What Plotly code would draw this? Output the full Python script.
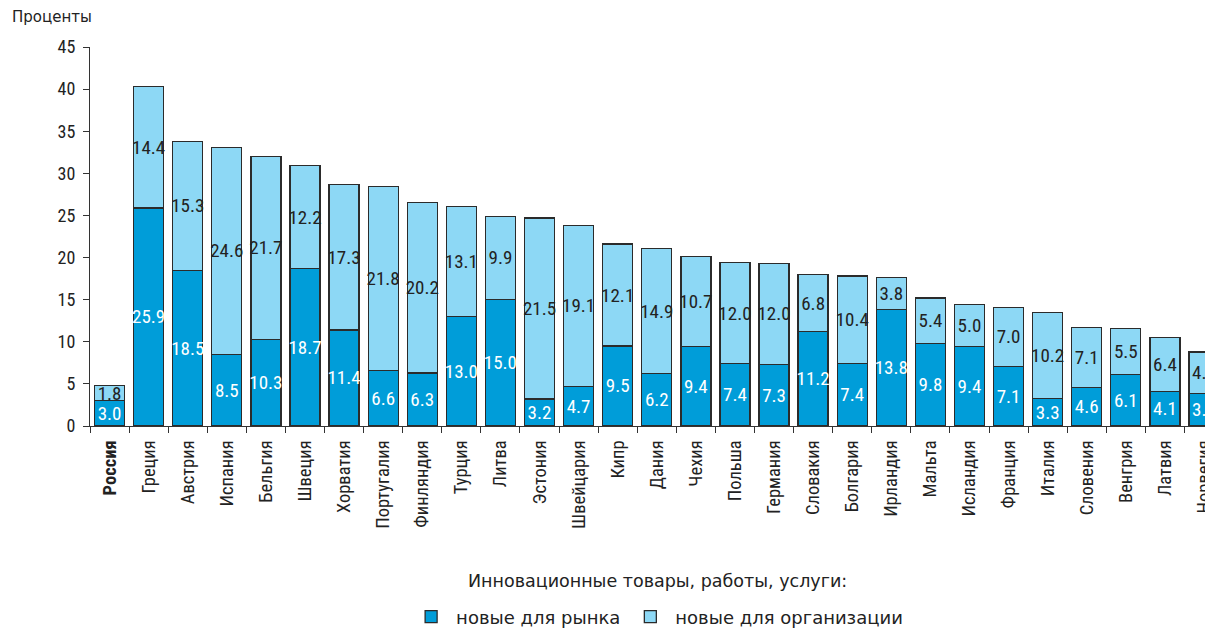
import plotly.graph_objects as go

countries = ["<b>Россия</b>", "Греция", "Австрия", "Испания", "Бельгия", "Швеция", "Хорватия",
             "Португалия", "Финляндия", "Турция", "Литва", "Эстония", "Швейцария", "Кипр",
             "Дания", "Чехия", "Польша", "Германия", "Словакия", "Болгария", "Ирландия",
             "Мальта", "Исландия", "Франция", "Италия", "Словения", "Венгрия", "Латвия", "Норвегия"]
new_market = [3.0, 25.9, 18.5, 8.5, 10.3, 18.7, 11.4, 6.6, 6.3, 13.0, 15.0, 3.2, 4.7, 9.5,
              6.2, 9.4, 7.4, 7.3, 11.2, 7.4, 13.8, 9.8, 9.4, 7.1, 3.3, 4.6, 6.1, 4.1, 3.9]
new_org = [1.8, 14.4, 15.3, 24.6, 21.7, 12.2, 17.3, 21.8, 20.2, 13.1, 9.9, 21.5, 19.1, 12.1,
           14.9, 10.7, 12.0, 12.0, 6.8, 10.4, 3.8, 5.4, 5.0, 7.0, 10.2, 7.1, 5.5, 6.4, 4.9]
y_ticks = [0, 5, 10, 15, 20, 25, 30, 35, 40, 45]

FONT = "Liberation Sans Narrow, Roboto Condensed, Liberation Sans, Arial, sans-serif"
WIDE = "DejaVu Sans, Noto Sans, sans-serif"
DARK = "#009dd9"
LIGHT = "#8dd8f5"
EDGE = "#2b2b2b"

fig = go.Figure()
fig.add_trace(go.Bar(
    x=countries, y=new_market, name="новые для рынка",
    marker=dict(color=DARK, line=dict(color=EDGE, width=1.3)),
    texttemplate="%{y:.1f}", textposition="inside", insidetextanchor="middle",
    textfont=dict(color="white", size=19, family=FONT), textangle=0,
))
fig.add_trace(go.Bar(
    x=countries, y=new_org, name="новые для организации",
    marker=dict(color=LIGHT, line=dict(color=EDGE, width=1.3)),
    texttemplate="%{y:.1f}", textposition="inside", insidetextanchor="middle",
    textfont=dict(color="#222222", size=19, family=FONT), textangle=0,
))

fig.update_layout(
    width=1221, height=670,
    barmode="stack", bargap=0.232,
    plot_bgcolor="white", paper_bgcolor="white",
    margin=dict(l=82, r=16, t=39, b=252),
    font=dict(family=FONT, size=16, color="#222222"),
    uniformtext=dict(mode="show", minsize=19),
    showlegend=True,
    legend=dict(orientation="h", x=0.505, xanchor="center", y=-0.504, yanchor="middle",
                font=dict(family=WIDE, size=18, color="#222222"),
                itemwidth=40, tracegroupgap=0, traceorder="normal"),
    annotations=[
        dict(text="Проценты", xref="paper", yref="paper", x=-0.0712, y=1.079,
             xanchor="left", yanchor="middle", showarrow=False,
             font=dict(family=WIDE, size=15, color="#222222")),
        dict(text="Инновационные товары, работы, услуги:", xref="paper", yref="paper",
             x=0.505, y=-0.409, xanchor="center", yanchor="middle", showarrow=False,
             font=dict(family=WIDE, size=17.5, color="#222222")),
    ],
)
fig.update_xaxes(
    range=[-0.5, 28.23], tickangle=-90, ticks="outside", tickson="boundaries",
    ticklen=6, tickcolor="#333333", showline=True, linecolor="#333333", linewidth=1,
    tickfont=dict(family=FONT, size=18.5, color="#222222"), showgrid=False,
    ticklabelstandoff=6,
)
fig.update_yaxes(
    range=[0, 45], tickvals=y_ticks, ticks="outside", ticklen=6, tickcolor="#333333",
    showline=True, linecolor="#333333", linewidth=1, showgrid=False, zeroline=False,
    tickfont=dict(family=FONT, size=18, color="#222222"), ticklabelstandoff=4,
)

fig.write_html("out.html")
